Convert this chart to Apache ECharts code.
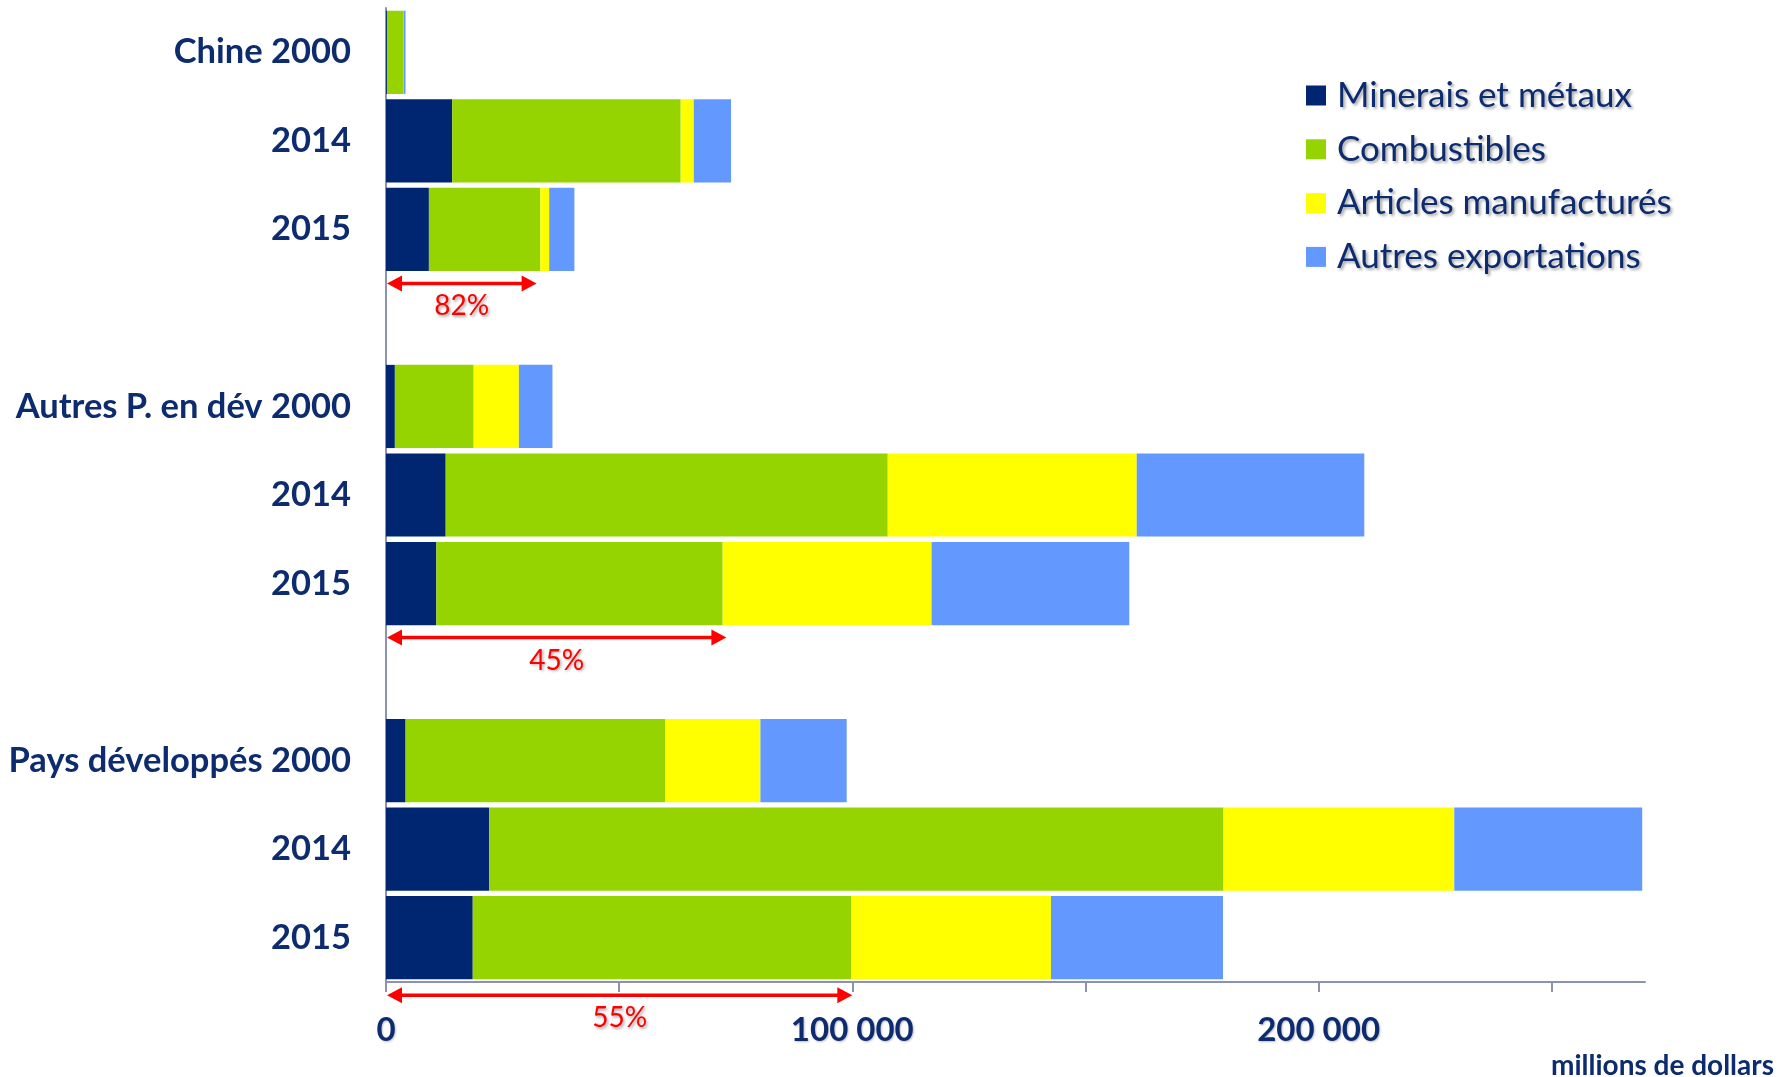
<!DOCTYPE html>
<html>
<head>
<meta charset="utf-8">
<script src="https://cdn.jsdelivr.net/npm/echarts@6/dist/echarts.min.js"></script>
<style>
html,body{margin:0;padding:0;background:#fff;}
#chart{width:1791px;height:1077px;}
</style>
</head>
<body>
<div id="chart"></div>
<script>
const categories = ['Chine 2000', '2014', '2015', '', 'Autres P. en dév 2000', '2014', '2015', '', 'Pays développés 2000', '2014', '2015'];
const seriesNames = ['Minerais et métaux', 'Combustibles', 'Articles manufacturés', 'Autres exportations'];
const minerais     = [200, 14200, 9200, '-', 1900, 12800, 10800, '-', 4200, 22100, 18600];
const combustibles = [3500, 49000, 23900, '-', 16900, 94800, 61400, '-', 55700, 157500, 81200];
const manufactures = [50, 2800, 1900, '-', 9700, 53400, 44800, '-', 20400, 49500, 42800];
const autres       = [430, 8000, 5400, '-', 7200, 48800, 42400, '-', 18500, 40300, 36900];
const xTicks = [0, 50000, 100000, 150000, 200000, 250000];
const xLabels = [0, 100000, 200000];
const arrowLabels = ['82%', '45%', '55%'];
const arrowEnds = [32300, 73000, 100000];
const arrowRows = [2, 6, 10];

const colors = ['#002671', '#95d400', '#ffff00', '#6398ff'];
const navy = '#0d2b6f';
const chart = echarts.init(document.getElementById('chart'));

const values = [minerais, combustibles, manufactures, autres];
const barSeries = values.map((v, i) => ({
  name: seriesNames[i],
  type: 'bar',
  stack: 'total',
  data: v,
  barCategoryGap: '6%',
  itemStyle: { color: colors[i] },
  emphasis: { disabled: true }
}));

function fmt(v) {
  return String(v).replace(/\B(?=(\d{3})+(?!\d))/g, ' ');
}

const arrowSeries = {
  type: 'custom',
  name: 'arrows',
  silent: true,
  clip: false,
  z: 10,
  data: arrowEnds.map((e, i) => [e, arrowRows[i]]),
  encode: { x: 0, y: 1 },
  renderItem: function (params, api) {
    const end = api.value(0);
    const row = api.value(1);
    const label = arrowLabels[params.dataIndex];
    const band = api.size([0, 1])[1];
    const p0 = api.coord([0, row]);
    const p1 = api.coord([end, row]);
    const last = params.dataIndex === arrowLabels.length - 1;
    const y = p0[1] + band * (last ? 0.65 : 0.61);
    const yt = p0[1] + band * (last ? 0.91 : 0.87);
    const x0 = p0[0] + 1, x1 = p1[0];
    const hl = 15, hh = 8;
    return {
      type: 'group',
      children: [
        { type: 'line', shape: { x1: x0 + hl - 2, y1: y, x2: x1 - hl + 2, y2: y }, style: { stroke: '#ff0000', lineWidth: 3.5 } },
        { type: 'polygon', shape: { points: [[x0, y], [x0 + hl, y - hh], [x0 + hl, y + hh]] }, style: { fill: '#ff0000' } },
        { type: 'polygon', shape: { points: [[x1, y], [x1 - hl, y - hh], [x1 - hl, y + hh]] }, style: { fill: '#ff0000' } },
        { type: 'text', x: (x0 + x1) / 2, y: yt, style: { text: label, fill: '#ff0000', font: '28px Lato, "Open Sans", sans-serif', align: 'center', verticalAlign: 'middle', textShadowColor: 'rgba(0,0,0,0.35)', textShadowBlur: 3, textShadowOffsetX: 1.5, textShadowOffsetY: 1.5 } }
      ]
    };
  }
};

chart.setOption({
  animation: false,
  backgroundColor: '#ffffff',
  grid: { left: 386, right: 146, top: 8, bottom: 95, containLabel: false },
  legend: {
    data: seriesNames,
    orient: 'vertical',
    left: 1301,
    top: 73,
    icon: 'rect',
    itemWidth: 20,
    itemHeight: 20,
    itemGap: 18.8,
    selectedMode: false,
    textStyle: {
      fontFamily: 'Lato, "Open Sans", sans-serif',
      fontSize: 35,
      lineHeight: 34,
      color: navy,
      padding: [0, 0, 0, 6],
      textShadowColor: 'rgba(0,0,0,0.35)',
      textShadowBlur: 3,
      textShadowOffsetX: 2,
      textShadowOffsetY: 2
    }
  },
  xAxis: {
    type: 'value',
    min: 0,
    max: 270000,
    interval: 50000,
    axisLine: { show: true, lineStyle: { color: '#8c93b0', width: 2 } },
    axisTick: { show: true, length: 10, customValues: xTicks, lineStyle: { color: '#8c93b0', width: 2 } },
    splitLine: { show: false },
    axisLabel: {
      customValues: xLabels,
      margin: 32,
      formatter: v => fmt(v),
      color: navy,
      fontWeight: 'bold',
      fontSize: 33,
      fontFamily: 'Lato, "Open Sans", sans-serif',
      textShadowColor: 'rgba(0,0,0,0.25)',
      textShadowBlur: 2,
      textShadowOffsetX: 1,
      textShadowOffsetY: 1
    }
  },
  yAxis: {
    type: 'category',
    data: categories,
    inverse: true,
    axisLine: { show: true, lineStyle: { color: '#8c93b0', width: 2 } },
    axisTick: { show: false },
    axisLabel: {
      margin: 35,
      color: navy,
      fontWeight: 'bold',
      fontSize: 34.5,
      fontFamily: 'Lato, "Open Sans", sans-serif',
      interval: 0
    }
  },
  graphic: [
    { type: 'text', right: 17, top: 1052, style: { text: 'millions de dollars', font: 'bold 28px Lato, "Open Sans", sans-serif', fill: navy } }
  ],
  series: barSeries.concat([arrowSeries])
});
</script>
</body>
</html>
